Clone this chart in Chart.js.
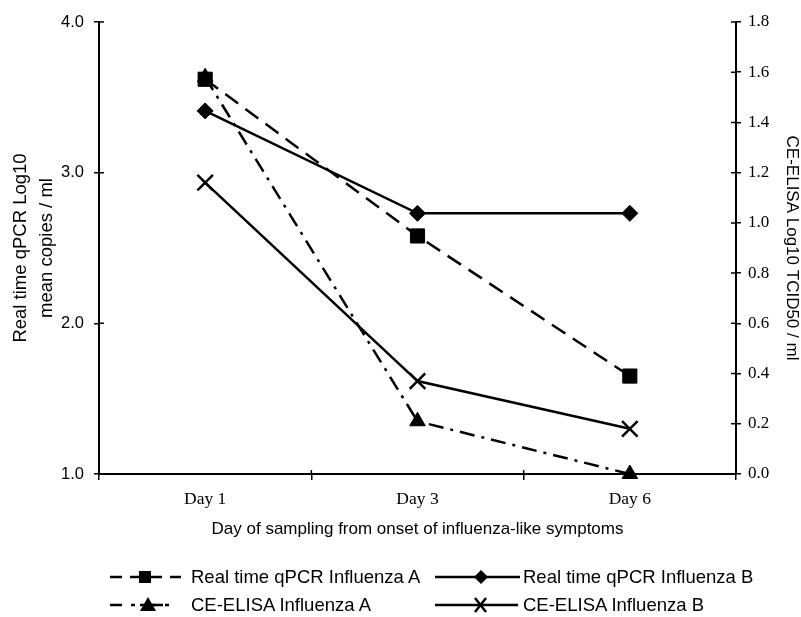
<!DOCTYPE html>
<html>
<head>
<meta charset="utf-8">
<script src="https://cdn.jsdelivr.net/npm/chart.js@4.4.1/dist/chart.umd.min.js"></script>
<style>
  html, body { margin: 0; padding: 0; background: #fff; }
  #wrap { position: relative; width: 801px; height: 617px; overflow: hidden; }
  #c { position: absolute; left: 0; top: 0; }
  .leg { position: absolute; font-family: "Liberation Sans", Arial, sans-serif; font-size: 18.5px; color: #000; line-height: 20px; white-space: nowrap; }
  .samp { position: absolute; }
</style>
</head>
<body>
<div id="wrap">
  <canvas id="c" width="801" height="617"></canvas>
  <svg class="samp" width="801" height="617" style="left:0;top:0;pointer-events:none">
    <!-- row 1 col 1: dashed + square -->
    <line x1="110" y1="577" x2="181" y2="577" stroke="#000" stroke-width="2.5" stroke-dasharray="12,8"/>
    <rect x="139" y="571" width="12" height="12" fill="#000"/>
    <!-- row 1 col 2: solid + diamond -->
    <line x1="435" y1="577" x2="520" y2="577" stroke="#000" stroke-width="2.5"/>
    <polygon points="481,570 488,577 481,584 474,577" fill="#000"/>
    <!-- row 2 col 1: dash-dot + triangle -->
    <line x1="110" y1="605" x2="178" y2="605" stroke="#000" stroke-width="2.5" stroke-dasharray="12,9,4,9"/>
    <line x1="140" y1="605" x2="163" y2="605" stroke="#000" stroke-width="2.5"/>
    <polygon points="148,597 156,611 140,611" fill="#000"/>
    <!-- row 2 col 2: solid + x -->
    <line x1="435" y1="605" x2="518" y2="605" stroke="#000" stroke-width="2.5"/>
    <line x1="475" y1="612" x2="486" y2="598" stroke="#000" stroke-width="2.5"/>
    <line x1="475" y1="598" x2="486" y2="612" stroke="#000" stroke-width="2.5"/>
  </svg>
  <div class="leg" style="left:191px;top:567px">Real time qPCR Influenza A</div>
  <div class="leg" style="left:523px;top:567px">Real time qPCR Influenza B</div>
  <div class="leg" style="left:191px;top:595px">CE-ELISA Influenza A</div>
  <div class="leg" style="left:523px;top:595px">CE-ELISA Influenza B</div>
</div>
<script>
// ---- data ----
const days = ['Day 1', 'Day 3', 'Day 6'];
const qpcrA = [3.62, 2.58, 1.65];    // left axis
const qpcrB = [3.41, 2.73, 2.73];    // left axis
const elisaA = [1.58, 0.21, 0.00];   // right axis
const elisaB = [1.16, 0.37, 0.18];   // right axis
const leftTicks = [1.0, 2.0, 3.0, 4.0];
const rightTicks = [0.0, 0.2, 0.4, 0.6, 0.8, 1.0, 1.2, 1.4, 1.6, 1.8];

const sans = '"Liberation Sans", Arial, sans-serif';
const serif = '"Liberation Serif", "Times New Roman", serif';

// draws the inner half of tick marks so ticks cross the axes
const crossTicks = {
  id: 'crossTicks',
  afterDraw(chart) {
    const ctx = chart.ctx;
    const ca = chart.chartArea;
    const yL = chart.scales.y, yR = chart.scales.y2, x = chart.scales.x;
    ctx.save();
    ctx.strokeStyle = '#000';
    ctx.lineWidth = 1.5;
    ctx.beginPath();
    yL.ticks.forEach(t => { const p = yL.getPixelForValue(t.value); ctx.moveTo(ca.left, p); ctx.lineTo(ca.left + 5, p); });
    yR.ticks.forEach(t => { const p = yR.getPixelForValue(t.value); ctx.moveTo(ca.right, p); ctx.lineTo(ca.right - 5, p); });
    for (let i = 0; i < days.length - 1; i++) {
      const p = (x.getPixelForValue(i) + x.getPixelForValue(i + 1)) / 2;
      ctx.moveTo(p, ca.bottom); ctx.lineTo(p, ca.bottom - 4);
    }
    ctx.stroke();
    ctx.restore();
  }
};

const common = { borderColor: '#000', backgroundColor: '#000', borderWidth: 2.5, pointBorderColor: '#000', pointBackgroundColor: '#000', pointBorderWidth: 1, fill: false, tension: 0, clip: false };

new Chart(document.getElementById('c'), {
  type: 'line',
  data: {
    labels: days,
    datasets: [
      Object.assign({}, common, { label: 'Real time qPCR Influenza A', data: qpcrA, yAxisID: 'y', borderDash: [16, 9], pointStyle: 'rect', pointRadius: 10, pointHoverRadius: 10 }),
      Object.assign({}, common, { label: 'Real time qPCR Influenza B', data: qpcrB, yAxisID: 'y', pointStyle: 'rectRot', pointRadius: 8, pointHoverRadius: 8 }),
      Object.assign({}, common, { label: 'CE-ELISA Influenza A', data: elisaA, yAxisID: 'y2', borderDash: [15, 7, 3, 7], pointStyle: 'triangle', pointRadius: 9, pointHoverRadius: 9 }),
      Object.assign({}, common, { label: 'CE-ELISA Influenza B', data: elisaB, yAxisID: 'y2', pointStyle: 'crossRot', pointRadius: 11, pointHoverRadius: 11, pointBorderWidth: 2.5 })
    ]
  },
  options: {
    responsive: false,
    animation: false,
    devicePixelRatio: 1,
    layout: { padding: { top: 22, left: 0, right: 0, bottom: 0 } },
    plugins: { legend: { display: false }, tooltip: { enabled: false } },
    scales: {
      x: {
        type: 'category',
        offset: true,
        grid: { offset: true, drawOnChartArea: false, drawTicks: true, tickLength: 6, color: '#000', lineWidth: 1.5 },
        border: { display: true, color: '#000', width: 2 },
        ticks: { color: '#000', font: { family: serif, size: 17.5 }, padding: 9, maxRotation: 0 },
        title: { display: true, text: 'Day of sampling from onset of influenza-like symptoms', color: '#000', font: { family: sans, size: 17 }, padding: { top: 0, bottom: 77 } },
        afterFit(s) { s.height = 143; }
      },
      y: {
        position: 'left',
        min: 1, max: 4,
        afterBuildTicks(s) { s.ticks = leftTicks.map(v => ({ value: v })); },
        grid: { drawOnChartArea: false, drawTicks: true, tickLength: 5, color: '#000', lineWidth: 1.5 },
        border: { display: true, color: '#000', width: 2 },
        ticks: { color: '#000', font: { family: sans, size: 16.5 }, padding: 10, callback: v => Number(v).toFixed(1) },
        title: { display: true, text: ['Real time qPCR Log10', 'mean copies / ml'], color: '#000', font: { family: sans, size: 18.5, lineHeight: 1.42 }, padding: { top: 8, bottom: 0 } },
        afterFit(s) { s.width = 99; }
      },
      y2: {
        position: 'right',
        min: 0, max: 1.8,
        afterBuildTicks(s) { s.ticks = rightTicks.map(v => ({ value: v })); },
        grid: { drawOnChartArea: false, drawTicks: true, tickLength: 5, color: '#000', lineWidth: 1.5 },
        border: { display: true, color: '#000', width: 2 },
        ticks: { color: '#000', font: { family: serif, size: 17 }, padding: 7, callback: v => Number(v).toFixed(1) },
        title: { display: true, text: 'CE-ELISA Log10 TCID50 / ml', color: '#000', font: { family: sans, size: 17, lineHeight: 1.1 }, padding: { top: 0, bottom: 0 } },
        afterFit(s) { s.width = 65; }
      }
    }
  },
  plugins: [crossTicks]
});
</script>
</body>
</html>
